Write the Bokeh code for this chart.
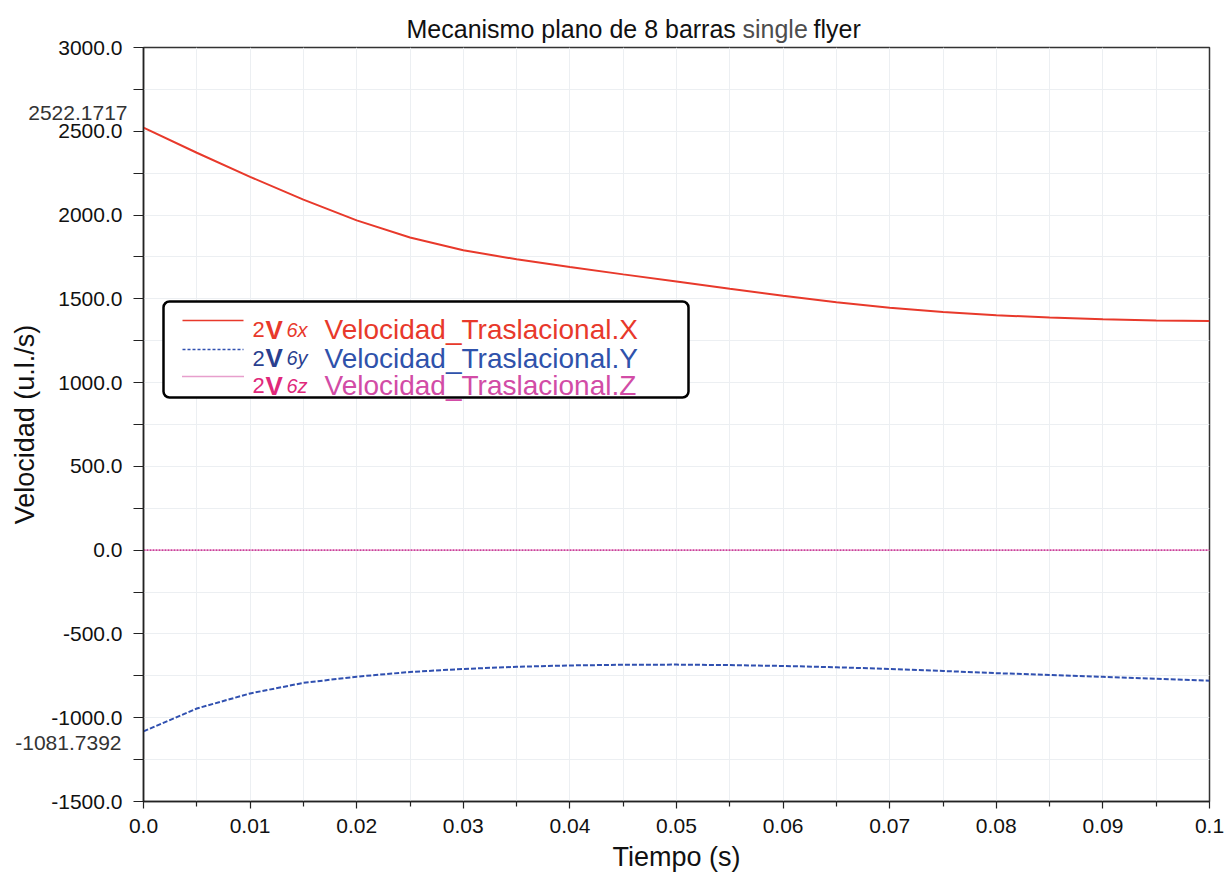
from bokeh.plotting import figure
from bokeh.models import FixedTicker, Label, BoxAnnotation, Range1d
from bokeh.core.properties import value
from bokeh.embed import file_html
from bokeh.resources import INLINE

# ---------------- data ----------------
t = [0.0, 0.005, 0.01, 0.015, 0.02, 0.025, 0.03, 0.035, 0.04, 0.045, 0.05,
     0.055, 0.06, 0.065, 0.07, 0.075, 0.08, 0.085, 0.09, 0.095, 0.1]
vx = [2522.1717, 2372, 2228, 2092, 1968, 1866, 1790, 1736, 1690, 1646, 1603,
      1560, 1518, 1480, 1447, 1421, 1402, 1388, 1378, 1371, 1368]
vy = [-1081.7392, -945, -855, -792, -755, -727, -709, -696, -688, -684, -683,
      -686, -691, -699, -709, -721, -734, -745, -756, -768, -779]
vz = [0.0, 0.0, 0.0, 0.0, 0.0, 0.0, 0.0, 0.0, 0.0, 0.0, 0.0,
      0.0, 0.0, 0.0, 0.0, 0.0, 0.0, 0.0, 0.0, 0.0, 0.0]

x_ticks = [0.0, 0.01, 0.02, 0.03, 0.04, 0.05, 0.06, 0.07, 0.08, 0.09, 0.1]
x_tick_labels = ["0.0", "0.01", "0.02", "0.03", "0.04", "0.05", "0.06", "0.07", "0.08", "0.09", "0.1"]
x_minor = [0.005, 0.015, 0.025, 0.035, 0.045, 0.055, 0.065, 0.075, 0.085, 0.095]
y_ticks = [-1500, -1000, -500, 0, 500, 1000, 1500, 2000, 2500, 3000]
y_tick_labels = ["-1500.0", "-1000.0", "-500.0", "0.0", "500.0", "1000.0", "1500.0", "2000.0", "2500.0", "3000.0"]
y_minor = [-1250, -750, -250, 250, 750, 1250, 1750, 2250, 2750]

series_names = ["Velocidad_Traslacional.X", "Velocidad_Traslacional.Y", "Velocidad_Traslacional.Z"]
series_prefix = ["6x", "6y", "6z"]
title_parts = ["Mecanismo plano de 8 barras", "single", "flyer"]

FONT = "Liberation Sans"

# ---------------- layout helpers (pixel -> data) ----------------
L, R, T, B = 143, 1209, 47, 801
X0, X1, Y0, Y1 = 0.0, 0.1, -1500.0, 3000.0


def dx(px):
    return X0 + (px - L) / (R - L) * (X1 - X0)


def dy(py):
    return Y1 - (py - T) / (B - T) * (Y1 - Y0)


p = figure(width=1232, height=877, output_backend="svg", toolbar_location=None,
           title=None, x_range=Range1d(X0, X1), y_range=Range1d(Y0, Y1),
           min_border_left=L, min_border_right=1232 - R,
           min_border_top=T, min_border_bottom=877 - B)
p.background_fill_color = "white"
p.border_fill_color = "white"
p.outline_line_color = "#333333"
p.outline_line_width = 1.5

p.xaxis.ticker = FixedTicker(ticks=x_ticks, minor_ticks=x_minor)
p.yaxis.ticker = FixedTicker(ticks=y_ticks, minor_ticks=y_minor)
p.xaxis.major_label_overrides = dict(zip(x_ticks, x_tick_labels))
p.yaxis.major_label_overrides = dict(zip(y_ticks, y_tick_labels))

for ax in (p.xaxis, p.yaxis):
    ax.axis_line_color = "#222222"
    ax.axis_line_width = 1.5
    ax.major_tick_line_color = "#222222"
    ax.minor_tick_line_color = "#222222"
    ax.major_tick_line_width = 1.2
    ax.minor_tick_line_width = 1.2
    ax.major_tick_in = 0
    ax.minor_tick_in = 0
    ax.major_label_text_font = FONT
    ax.major_label_text_font_size = "21px"
    ax.major_label_text_color = "#111111"
    ax.axis_label_text_font = FONT
    ax.axis_label_text_font_size = "27px"
    ax.axis_label_text_font_style = "normal"
    ax.axis_label_text_color = "#111111"

p.xaxis.major_tick_out = 7
p.xaxis.minor_tick_out = 5
p.yaxis.major_tick_out = 10
p.yaxis.minor_tick_out = 10
p.xaxis.major_label_standoff = 10
p.yaxis.major_label_standoff = 11
p.xaxis.axis_label = "Tiempo (s)"
p.yaxis.axis_label = "Velocidad (u.l./s)"
p.xaxis.axis_label_standoff = 6
p.yaxis.axis_label_standoff = 8

for g in (p.xgrid, p.ygrid):
    g.grid_line_color = "#eceff2"
    g.minor_grid_line_color = "#eceff2"
    g.grid_line_width = 1
    g.minor_grid_line_width = 1

# ---------------- series ----------------
c_x, c_y, c_z = "#e8392b", "#3050b0", "#cf3f9a"
p.line(t, vx, color=c_x, line_width=2)
p.line(t, vy, color=c_y, line_width=2, line_dash="5 2")
p.line(t, vz, color=c_z, line_width=1.8, line_dash="2 1")

# ---------------- title (text glyphs on overlay level, outside frame) ----------------
title_x = [406, 742, 813]
title_cols = ["#111111", "#4d4d4d", "#111111"]
p.text(x=[dx(v) for v in title_x], y=[dy(28)] * 3, text=title_parts,
       text_font=value(FONT), text_font_size="25px", text_color=title_cols,
       text_align="left", text_baseline="alphabetic", level="overlay")

# ---------------- extra value labels on y axis ----------------
p.text(x=[dx(127), dx(121)], y=[dy(112), dy(742)],
       text=[f"{vx[0]:.4f}", f"{vy[0]:.4f}"], text_font=value(FONT),
       text_font_size="21px", text_color="#333333", text_align="right",
       text_baseline="middle", level="overlay")

# ---------------- legend ----------------
p.add_layout(BoxAnnotation(left=dx(163), right=dx(688), top=dy(301), bottom=dy(397),
                           fill_color="white", fill_alpha=1.0, line_color="black",
                           line_alpha=1.0, line_width=2.5, border_radius=6))

line_rows = [320, 349, 376]
base_rows = [329, 357.5, 385]
line_cols = [c_x, c_y, c_z]
dashes = ["solid", "3 2", "1 1"]
pref_cols = ["#e8392b", "#2a3f8f", "#e0287a"]
text_cols = ["#e8392b", "#2f52ab", "#d24ca6"]
for i in range(3):
    p.line([dx(182), dx(243)], [dy(line_rows[i]), dy(line_rows[i])], color=line_cols[i],
           line_width=1.6, line_dash=dashes[i], level="overlay")
    yb = dy(base_rows[i])
    p.add_layout(Label(x=dx(252), y=yb, text="2", text_font=FONT, text_font_size="22px",
                       text_color=pref_cols[i], text_baseline="alphabetic"))
    p.add_layout(Label(x=dx(265), y=yb, text="V", text_font=FONT, text_font_size="26px",
                       text_font_style="bold", text_color=pref_cols[i], text_baseline="alphabetic"))
    p.add_layout(Label(x=dx(286), y=yb, text=series_prefix[i], text_font=FONT, text_font_size="20px",
                       text_font_style="italic", text_color=pref_cols[i], text_baseline="alphabetic"))
    p.add_layout(Label(x=dx(324), y=yb, text=series_names[i], text_font=FONT, text_font_size="28px",
                       text_color=text_cols[i], text_baseline="alphabetic"))

open("out.html", "w").write(file_html(p, INLINE))
